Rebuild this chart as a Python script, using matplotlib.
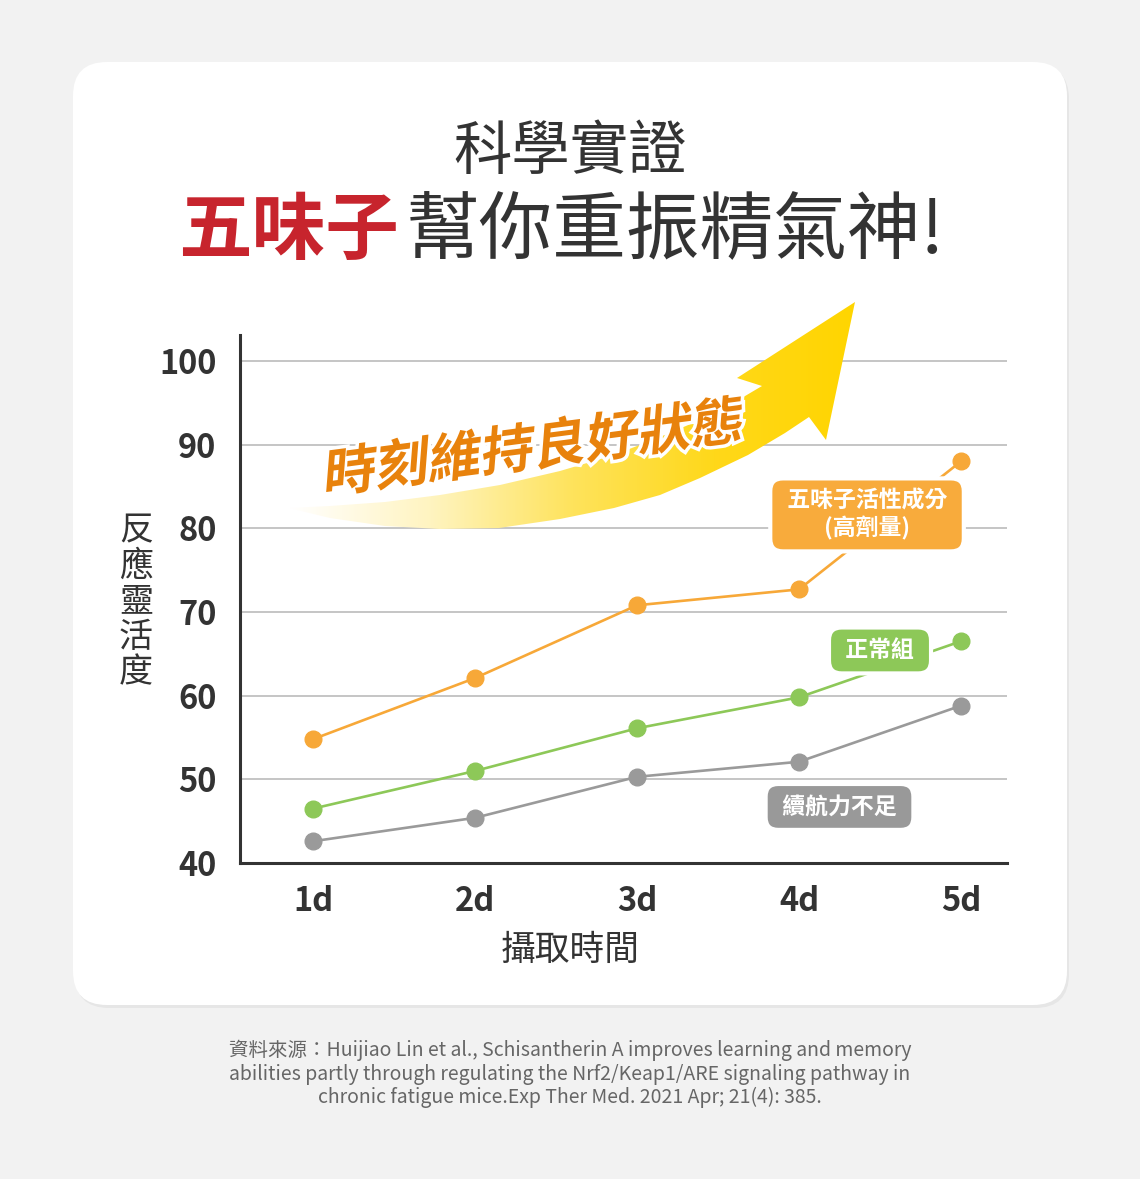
import numpy as np
import matplotlib
matplotlib.use("Agg")
import matplotlib.pyplot as plt
from matplotlib.patches import FancyBboxPatch, Polygon, PathPatch
from matplotlib.colors import LinearSegmentedColormap
from matplotlib.textpath import TextPath
from matplotlib.font_manager import FontProperties
from matplotlib.transforms import Affine2D
import matplotlib.patheffects as pe

plt.rcParams['font.family'] = ['Noto Sans CJK TC', 'DejaVu Sans']

# データ
days = ['1d', '2d', '3d', '4d', '5d']
high_dose = [54.8, 62.1, 70.8, 72.7, 88.0]   # 五味子活性成分(高劑量)
normal = [46.5, 51.0, 56.1, 59.8, 66.5]      # 正常組
fatigue = [42.6, 45.4, 50.3, 52.1, 58.8]     # 續航力不足
y_ticks = [40, 50, 60, 70, 80, 90, 100]

W, H = 1140, 1179
fig = plt.figure(figsize=(W / 100, H / 100), dpi=100)
fig.patch.set_facecolor('#f2f2f2')

# 背景カード
ax_bg = fig.add_axes([0, 0, 1, 1], zorder=0)
ax_bg.set_xlim(0, W)
ax_bg.set_ylim(0, H)
ax_bg.axis('off')
shadow = FancyBboxPatch((75, H - 1008), 994, 943, boxstyle='round,pad=0,rounding_size=34',
                        fc='#e6e6e6', ec='none')
card = FancyBboxPatch((73, H - 1005), 994, 943, boxstyle='round,pad=0,rounding_size=34',
                      fc='white', ec='none')
ax_bg.add_patch(shadow)
ax_bg.add_patch(card)

# タイトル
ax_bg.text(570, H - 152, '科學實證', ha='center', va='center', fontsize=42, color='#333333')
ax_bg.text(399, H - 232, '五味子', ha='right', va='center', fontsize=53,
           fontweight='bold', color='#c7242d')
ax_bg.text(406, H - 232, '幫你重振精氣神!', ha='left', va='center', fontsize=53, color='#333333')

# 出典
ax_bg.text(570, H - 1074,
           '資料來源：Huijiao Lin et al., Schisantherin A improves learning and memory\n'
           'abilities partly through regulating the Nrf2/Keap1/ARE signaling pathway in\n'
           'chronic fatigue mice.Exp Ther Med. 2021 Apr; 21(4): 385.',
           ha='center', va='center', fontsize=14, color='#666666', linespacing=1.17)

# 軸ラベル
ax_bg.text(136, H - 602, '\n'.join('反應靈活度'), ha='center', va='center',
           fontsize=24.5, color='#333333', linespacing=1.02)
ax_bg.text(570, H - 950, '攝取時間', ha='center', va='center', fontsize=25, color='#333333')

# グラフ本体
ax = fig.add_axes([240 / W, (H - 863) / H, (1007 - 240) / W, (863 - 335) / H], zorder=1)
ax.set_facecolor('none')
x = np.arange(1, len(days) + 1)
ax.set_xlim(0.549, 5.284)
ax.set_ylim(40, 103.1)
ax.set_yticks(y_ticks)
ax.set_xticks(x)
ax.set_xticklabels(days)
ax.grid(axis='y', color='#bbbbbb', lw=1.2)
ax.set_axisbelow(True)
for s in ['top', 'right']:
    ax.spines[s].set_visible(False)
for s in ['left', 'bottom']:
    ax.spines[s].set_color('#333333')
    ax.spines[s].set_linewidth(2.2)
ax.tick_params(length=0, labelsize=23.5, labelcolor='#333333')
ax.tick_params(axis='y', pad=17)
ax.tick_params(axis='x', pad=16)
for lab in ax.get_xticklabels() + ax.get_yticklabels():
    lab.set_fontweight('bold')

series = [(high_dose, '#f7a838'), (normal, '#8dc858'), (fatigue, '#9a9a9a')]
for vals, col in series:
    ax.plot(x, vals, color=col, lw=1.9, marker='o', ms=12, zorder=3)

def tag(xp, yp, s, col):
    ax.text(xp, yp, s, ha='center', va='center', fontsize=16.5, fontweight='bold',
            color='white', zorder=5, linespacing=1.15,
            bbox=dict(boxstyle='round,pad=0.5,rounding_size=0.55', fc=col, ec='white', lw=3))

tag(4.42, 81.6, ' 五味子活性成分 \n(高劑量)', '#f8ab3c')
tag(4.50, 65.4, ' 正常組 ', '#8dc858')
tag(4.25, 46.7, ' 續航力不足 ', '#999999')

# 上昇矢印
ax_ov = fig.add_axes([0, 0, 1, 1], zorder=2)
ax_ov.set_xlim(0, W)
ax_ov.set_ylim(0, H)
ax_ov.axis('off')
ax_ov.patch.set_alpha(0)

lower = [(289, 508), (330, 518), (385, 526), (440, 529), (499, 528), (560, 519),
         (614, 508), (660, 495), (700, 478), (748, 455), (785, 433), (809, 417)]
head = [(826, 440), (855, 302), (737, 378), (762, 386)]
upper = [(740, 399), (700, 420), (660, 437), (614, 455), (560, 471), (500, 485),
         (440, 495), (385, 502), (330, 506)]
pts = [(px, H - py) for px, py in lower + head + upper]
poly = Polygon(pts, closed=True, fc='none', ec='none')
ax_ov.add_patch(poly)
cmap = LinearSegmentedColormap.from_list('arrow', ['#ffffff', '#fff4c0', '#fee35c', '#ffd81a', '#ffd500'])
grad = np.linspace(0, 1, 256).reshape(1, -1)
im = ax_ov.imshow(grad, extent=[289, 856, H - 530, H - 300], cmap=cmap, aspect='auto', zorder=1)
im.set_clip_path(poly)
ax_ov.set_xlim(0, W)
ax_ov.set_ylim(0, H)

fp = FontProperties(family='Noto Sans CJK TC', weight='bold')
tp = TextPath((0, 0), '時刻維持良好狀態', size=53, prop=fp)
ext = tp.get_extents()
cx, cy = (ext.x0 + ext.x1) / 2, (ext.y0 + ext.y1) / 2
tr = Affine2D().translate(-cx, -cy).skew_deg(12, 0).rotate_deg(7.5).translate(535, H - 445)
txt = PathPatch(tr.transform_path(tp), fc='#e8820c', ec='none', zorder=3)
txt.set_path_effects([pe.Stroke(linewidth=5, foreground='white'), pe.Normal()])
ax_ov.add_patch(txt)

fig.savefig('out.png', dpi=100, facecolor=fig.get_facecolor())
